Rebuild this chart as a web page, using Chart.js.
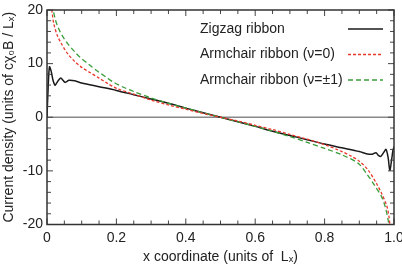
<!DOCTYPE html>
<html>
<head>
<meta charset="utf-8">
<script src="https://cdn.jsdelivr.net/npm/chart.js@4.4.0/dist/chart.umd.min.js"></script>
<style>
    html, body { margin: 0; padding: 0; background: #fff; }
    #wrap { width: 402px; height: 266px; }
</style>
</head>
<body>
<div id="wrap"><canvas id="currentChart"></canvas></div>
<script>
// --- data ---
const seriesNames = ['Zigzag ribbon', 'Armchair ribbon (\u03bd=0)', 'Armchair ribbon (\u03bd=\u00b11)'];

const zigzagX = [0, 0.003, 0.007, 0.012, 0.017, 0.023, 0.028, 0.033, 0.04, 0.046, 0.052, 0.058, 0.063, 0.08, 0.1, 0.15, 0.2, 0.25, 0.3, 0.35, 0.4, 0.45, 0.5,
    0.55, 0.6, 0.65, 0.7, 0.75, 0.8, 0.85, 0.9, 0.92, 0.937, 0.948, 0.955, 0.962, 0.97, 0.977, 0.983, 0.988, 0.993, 0.997, 1.0];
const zigzagY = [0, 5.0, 9.4, 8.6, 7.0, 6.0, 6.4, 6.9, 7.3, 6.9, 6.5, 6.7, 6.9, 6.8, 6.4, 5.7, 5.0, 4.2, 3.4, 2.6, 1.7, 0.85, 0,
    -0.85, -1.7, -2.6, -3.4, -4.2, -5.0, -5.7, -6.4, -6.8, -6.9, -6.6, -7.1, -7.3, -6.6, -6.0, -7.5, -9.9, -8.0, -6.2, -5.5];

const armchair0X = [0.012, 0.015, 0.02, 0.03, 0.04, 0.06, 0.08, 0.1, 0.125, 0.15, 0.175, 0.2, 0.25, 0.3, 0.35, 0.4, 0.45, 0.5,
    0.55, 0.6, 0.65, 0.7, 0.75, 0.8, 0.85, 0.875, 0.9, 0.925, 0.95, 0.965, 0.979, 0.985, 0.989];
const armchair0Y = [21, 19.4, 17.3, 15.2, 13.9, 11.8, 10.4, 9.3, 8.3, 7.3, 6.3, 5.4, 4.3, 3.2, 2.3, 1.5, 0.7, 0,
    -0.7, -1.5, -2.3, -3.2, -4.1, -5.1, -6.4, -7.2, -8.2, -9.8, -12.4, -14.3, -16.5, -18.3, -20.5];

const armchair1X = [0.014, 0.018, 0.025, 0.035, 0.047, 0.06, 0.08, 0.095, 0.12, 0.143, 0.17, 0.19, 0.22, 0.25, 0.3, 0.35, 0.4, 0.45, 0.5,
    0.55, 0.6, 0.65, 0.7, 0.75, 0.8, 0.85, 0.897, 0.921, 0.945, 0.964, 0.976, 0.984, 0.988];
const armchair1Y = [21, 19.9, 18.0, 16.3, 14.9, 13.7, 12.2, 11.2, 9.9, 8.7, 7.5, 6.6, 5.6, 4.8, 3.6, 2.6, 1.7, 0.85, 0,
    -0.85, -1.7, -2.6, -3.6, -4.7, -5.8, -7.0, -8.6, -10.5, -12.8, -14.8, -17, -19.5, -21];

const xTickValues = [0, 0.2, 0.4, 0.6, 0.8, 1.0];
const xTickLabels = ['0', '0.2', '0.4', '0.6', '0.8', '1.0'];
const yTickValues = [-20, -10, 0, 10, 20];
const yTickLabels = ['-20', '-10', '0', '10', '20'];

const FONT = '"Liberation Sans", Arial, sans-serif';
const TEXT = '#222';

function toPoints(xs, ys) {
    return xs.map((x, i) => ({ x, y: ys[i] }));
}

// frame, zero line and inward ticks on all four sides
const framePlugin = {
    id: 'frame',
    beforeDatasetsDraw(chart) {
        const { ctx, chartArea: a, scales: { x, y } } = chart;
        ctx.save();
        ctx.strokeStyle = '#888';
        ctx.lineWidth = 1.5;
        const y0 = y.getPixelForValue(0);
        ctx.beginPath();
        ctx.moveTo(a.left, y0);
        ctx.lineTo(a.right, y0);
        ctx.stroke();
        ctx.restore();
    },
    afterDatasetsDraw(chart) {
        const { ctx, chartArea: a, scales: { x, y } } = chart;
        ctx.save();
        ctx.strokeStyle = '#444';
        ctx.lineWidth = 1;
        ctx.beginPath();
        for (let i = 0; i <= 20; i++) {
            const px = x.getPixelForValue(i * 0.05);
            const len = i % 4 === 0 ? 6 : 4;
            ctx.moveTo(px, a.bottom); ctx.lineTo(px, a.bottom - len);
            ctx.moveTo(px, a.top); ctx.lineTo(px, a.top + len);
        }
        for (let i = -10; i <= 10; i++) {
            const py = y.getPixelForValue(i * 2);
            const len = i % 5 === 0 ? 6 : 4;
            ctx.moveTo(a.left, py); ctx.lineTo(a.left + len, py);
            ctx.moveTo(a.right, py); ctx.lineTo(a.right - len, py);
        }
        ctx.stroke();
        ctx.strokeStyle = '#333';
        ctx.lineWidth = 1.5;
        ctx.strokeRect(a.left, a.top, a.right - a.left, a.bottom - a.top);
        ctx.restore();
    }
};

// legend: text on the left, line sample on the right
const legendPlugin = {
    id: 'sideLegend',
    afterDraw(chart) {
        const { ctx, chartArea: a } = chart;
        ctx.save();
        ctx.font = '14px ' + FONT;
        ctx.textBaseline = 'middle';
        chart.data.datasets.forEach((ds, i) => {
            const rowY = a.top + 19 + i * 25.5;
            ctx.fillStyle = TEXT;
            ctx.textAlign = 'left';
            ctx.fillText(ds.label, a.left + 153, rowY);
            ctx.strokeStyle = ds.borderColor;
            ctx.lineWidth = ds.borderWidth;
            ctx.setLineDash(ds.borderDash || []);
            ctx.beginPath();
            ctx.moveTo(a.right - 46, rowY);
            ctx.lineTo(a.right - 11, rowY);
            ctx.stroke();
        });
        ctx.restore();
    }
};

const ctx = document.getElementById('currentChart').getContext('2d');

new Chart(ctx, {
    type: 'line',
    data: {
        datasets: [
            {
                label: seriesNames[0],
                data: toPoints(zigzagX, zigzagY),
                borderColor: '#1a1a1a',
                borderWidth: 1.5,
                pointRadius: 0,
                tension: 0.3,
                order: 3
            },
            {
                label: seriesNames[1],
                data: toPoints(armchair0X, armchair0Y),
                borderColor: '#e8392e',
                borderWidth: 1.3,
                borderDash: [3, 2],
                pointRadius: 0,
                tension: 0.3,
                order: 1
            },
            {
                label: seriesNames[2],
                data: toPoints(armchair1X, armchair1Y),
                borderColor: '#3a9d3a',
                borderWidth: 1.3,
                borderDash: [5, 3],
                pointRadius: 0,
                tension: 0.3,
                order: 2
            }
        ]
    },
    options: {
        responsive: true,
        maintainAspectRatio: false,
        animation: false,
        layout: { padding: { top: 10, right: 8, left: 0, bottom: 0 } },
        plugins: {
            legend: { display: false },
            tooltip: { enabled: false }
        },
        scales: {
            x: {
                type: 'linear',
                min: 0,
                max: 1,
                afterBuildTicks: s => { s.ticks = xTickValues.map(v => ({ value: v })); },
                afterFit: s => { s.height = 41.5; s.paddingLeft = 0; s.paddingRight = 0; },
                grid: { display: false, drawTicks: false },
                border: { display: false },
                ticks: {
                    color: TEXT,
                    font: { family: FONT, size: 14 },
                    padding: 5,
                    maxRotation: 0,
                    autoSkip: false,
                    callback: (v, i) => xTickLabels[i]
                },
                title: {
                    display: true,
                    text: 'x coordinate (units of  L\u2093)',
                    color: TEXT,
                    font: { family: FONT, size: 14 },
                    padding: { top: 0, bottom: 0 }
                }
            },
            y: {
                min: -20,
                max: 20,
                afterBuildTicks: s => { s.ticks = yTickValues.map(v => ({ value: v })); },
                afterFit: s => { s.width = 47; s.paddingTop = 0; s.paddingBottom = 0; },
                grid: { display: false, drawTicks: false },
                border: { display: false },
                ticks: {
                    color: TEXT,
                    font: { family: FONT, size: 14 },
                    padding: 4,
                    autoSkip: false,
                    callback: (v, i) => yTickLabels[i]
                },
                title: {
                    display: true,
                    text: 'Current density (units of c\u03c7\u2080B / L\u2093)',
                    color: TEXT,
                    font: { family: FONT, size: 14 },
                    padding: { top: 1, bottom: 0 }
                }
            }
        }
    },
    plugins: [framePlugin, legendPlugin]
});
</script>
</body>
</html>
